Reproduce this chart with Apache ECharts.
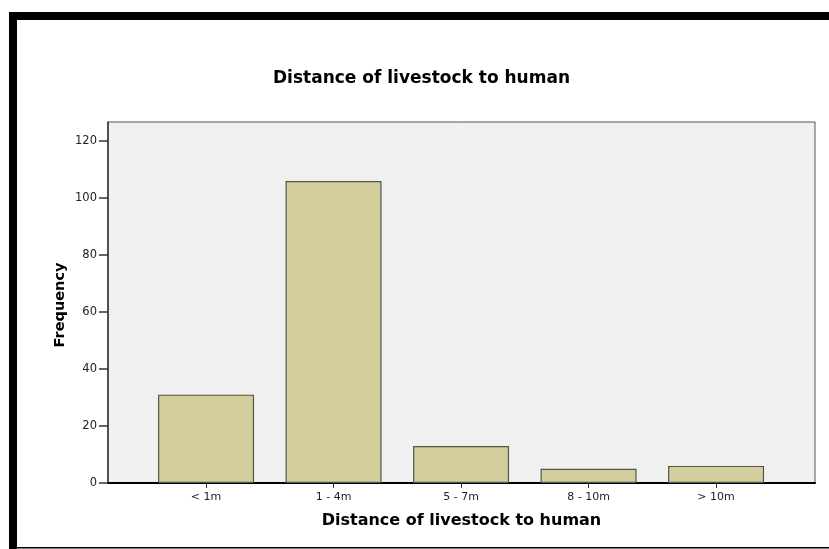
<!DOCTYPE html>
<html>
<head>
<meta charset="utf-8">
<script src="https://cdn.jsdelivr.net/npm/echarts@6/dist/echarts.min.js"></script>
<style>
html,body{margin:0;padding:0;background:#fff;}
#chart{width:829px;height:549px;}
</style>
</head>
<body>
<div id="chart"></div>
<script>
var categories = ['< 1m', '1 - 4m', '5 - 7m', '8 - 10m', '> 10m'];
var frequency = [31, 106, 13, 5, 6];
var yTicks = [0, 20, 40, 60, 80, 100, 120];
var chartTitle = 'Distance of livestock to human';
var xTitle = 'Distance of livestock to human';
var yTitle = 'Frequency';

var chart = echarts.init(document.getElementById('chart'), null, {renderer: 'canvas'});
var barData = frequency.map(function (v, i) { return [i, v]; });
var catIdx = categories.map(function (c, i) { return i; });

var option = {
  animation: false,
  backgroundColor: '#ffffff',
  title: {
    text: chartTitle,
    left: 273,
    top: 70,
    padding: 0,
    textStyle: {fontFamily: 'DejaVu Sans', fontWeight: 'bold', fontSize: 17, color: '#000'}
  },
  grid: {
    left: 108, top: 122, right: 14, bottom: 66,
    show: true, backgroundColor: '#f0f0f0', borderColor: '#555555', borderWidth: 1
  },
  xAxis: {
    type: 'value',
    min: -0.769,
    max: 4.776,
    splitLine: {show: false},
    axisLine: {show: true, onZero: false, lineStyle: {color: '#000', width: 2}},
    axisTick: {show: true, customValues: catIdx, length: 5, lineStyle: {color: '#333', width: 1}},
    axisLabel: {
      customValues: catIdx,
      margin: 9,
      fontFamily: 'DejaVu Sans', fontSize: 11, color: '#222',
      formatter: function (v) { return categories[Math.round(v)]; }
    },
    name: xTitle,
    nameLocation: 'middle',
    nameGap: 30,
    nameTextStyle: {fontFamily: 'DejaVu Sans', fontWeight: 'bold', fontSize: 16, color: '#000'}
  },
  yAxis: {
    type: 'value',
    min: 0,
    max: 126.7,
    interval: 20,
    splitLine: {show: false},
    axisLine: {show: true, onZero: false, lineStyle: {color: '#333', width: 1.5}},
    axisTick: {show: true, customValues: yTicks, length: 9, lineStyle: {color: '#333', width: 1.5}},
    axisLabel: {
      customValues: yTicks,
      margin: 11,
      fontFamily: 'DejaVu Sans', fontSize: 11.5, color: '#222'
    }
  },
  graphic: [
    {type: 'rect', shape: {x: 9, y: 12, width: 820, height: 8}, style: {fill: '#000'}, z: 100},
    {type: 'rect', shape: {x: 9, y: 12, width: 8, height: 537}, style: {fill: '#000'}, z: 100},
    {type: 'rect', shape: {x: 17, y: 547, width: 812, height: 1.5}, style: {fill: '#000'}, z: 100},
    {type: 'text', x: 60, y: 305, rotation: Math.PI / 2,
      style: {text: yTitle, fontFamily: 'DejaVu Sans', fontWeight: 'bold', fontSize: 14.5, fill: '#000',
        textAlign: 'center', textVerticalAlign: 'middle'}, z: 100}
  ],
  series: [{
    type: 'bar',
    data: barData,
    barWidth: 96,
    itemStyle: {color: '#d3ce9b', borderColor: '#55554a', borderWidth: 1.2},
    z: 2
  }]
};
chart.setOption(option);
</script>
</body>
</html>
